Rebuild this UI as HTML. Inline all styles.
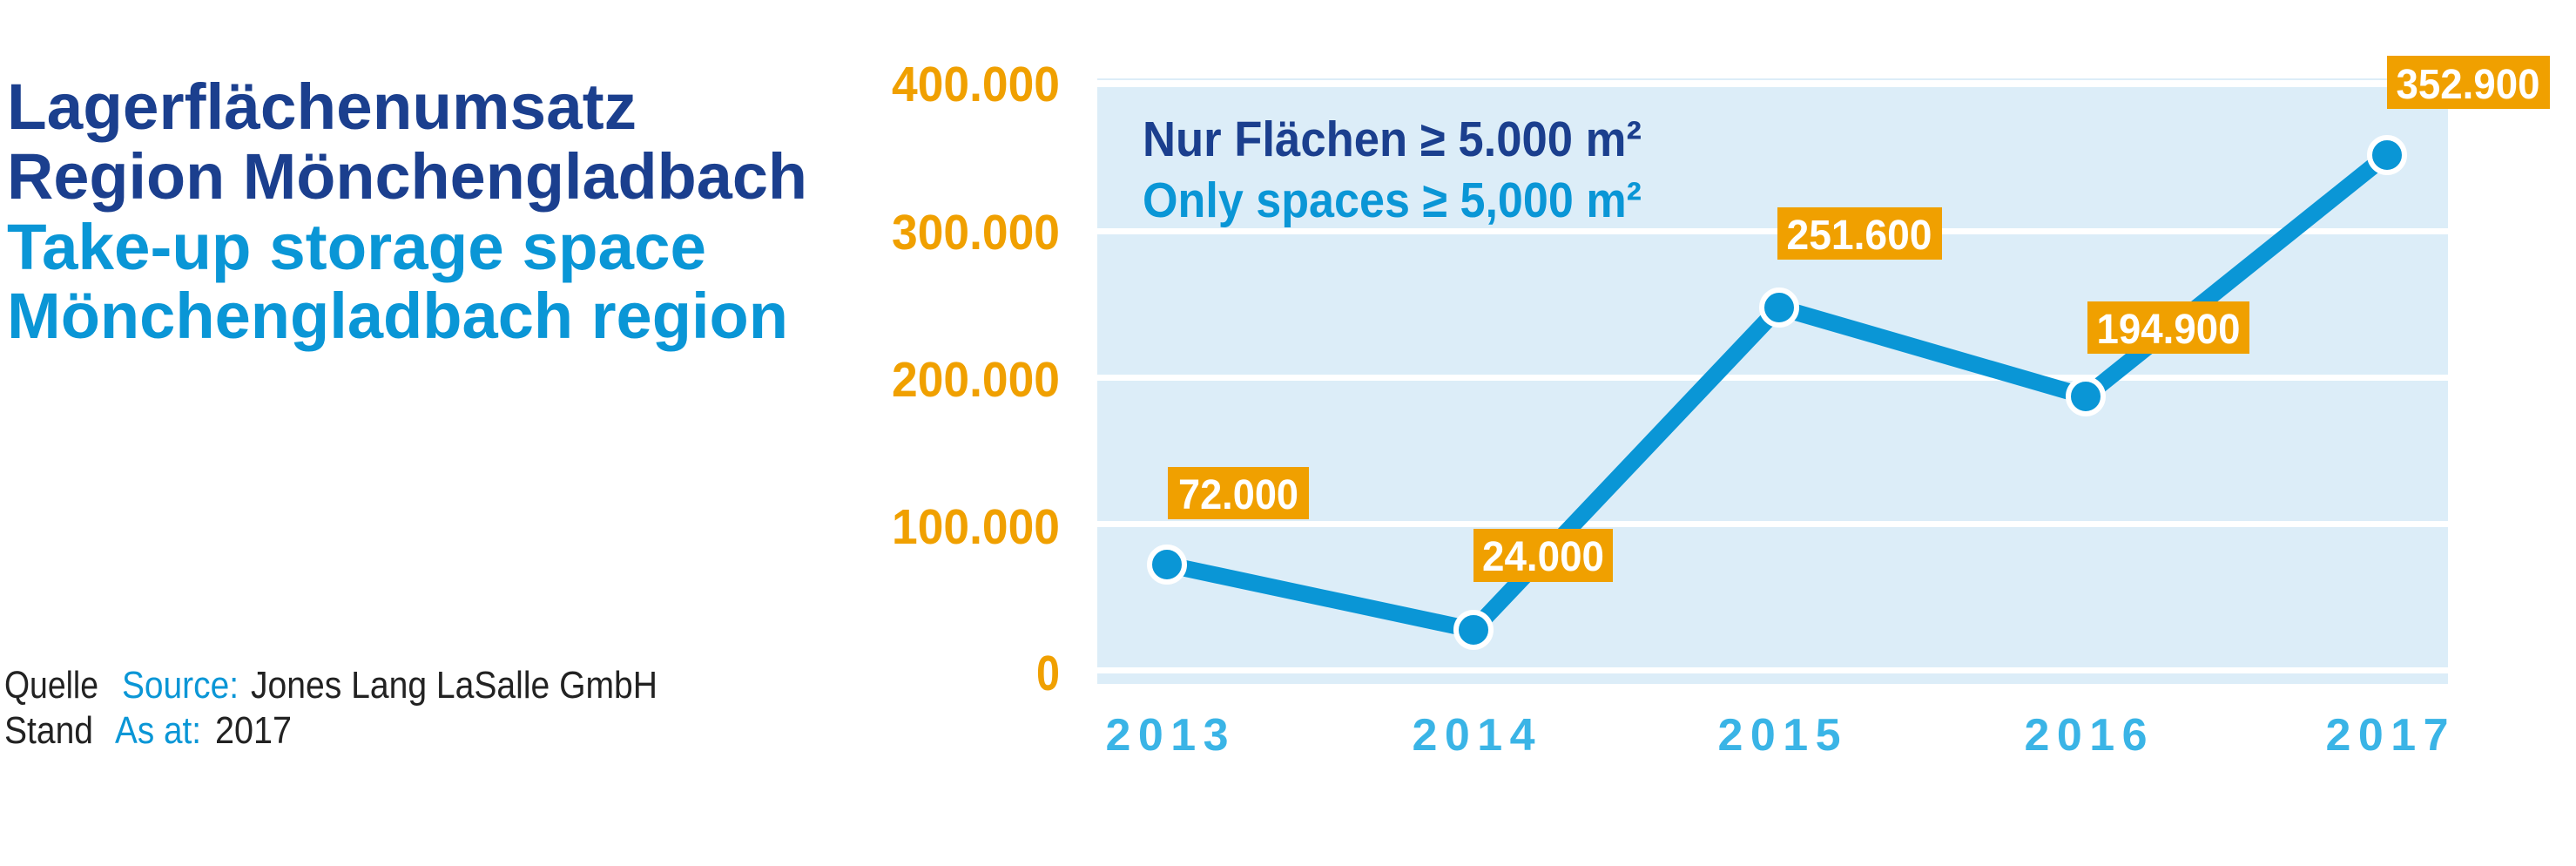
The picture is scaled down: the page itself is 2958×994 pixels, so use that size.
<!DOCTYPE html>
<html><head><meta charset="utf-8"><style>
html,body{margin:0;padding:0;background:#fff;}
svg{display:block;}
text{font-family:"Liberation Sans",Arial,sans-serif;}
</style></head><body>
<svg width="2958" height="994" viewBox="0 0 2958 994" xmlns="http://www.w3.org/2000/svg">
<rect x="0" y="0" width="2958" height="994" fill="#fff"/>
<!-- title -->
<g font-weight="bold" font-size="74">
<text x="8" y="148" fill="#1b3f8e" textLength="723" lengthAdjust="spacingAndGlyphs">Lagerflächenumsatz</text>
<text x="8" y="228" fill="#1b3f8e" textLength="919" lengthAdjust="spacingAndGlyphs">Region Mönchengladbach</text>
<text x="8" y="309" fill="#0a96d6" textLength="803" lengthAdjust="spacingAndGlyphs">Take-up storage space</text>
<text x="8" y="388" fill="#0a96d6" textLength="897" lengthAdjust="spacingAndGlyphs">Mönchengladbach region</text>
</g>
<!-- source -->
<g font-size="44">
<text x="5" y="801" fill="#222" textLength="108" lengthAdjust="spacingAndGlyphs">Quelle</text>
<text x="140" y="801" fill="#0a96d6" textLength="134" lengthAdjust="spacingAndGlyphs">Source:</text>
<text x="288" y="801" fill="#222" textLength="467" lengthAdjust="spacingAndGlyphs">Jones Lang LaSalle GmbH</text>
<text x="5" y="853" fill="#222" textLength="102" lengthAdjust="spacingAndGlyphs">Stand</text>
<text x="132" y="853" fill="#0a96d6" textLength="99" lengthAdjust="spacingAndGlyphs">As at:</text>
<text x="247" y="853" fill="#222" textLength="88" lengthAdjust="spacingAndGlyphs">2017</text>
</g>
<!-- plot bg -->
<rect x="1260" y="90" width="1551" height="695" fill="#dcedf8"/>
<g fill="#fff">
<rect x="1260" y="92" width="1551" height="8"/>
<rect x="1260" y="262" width="1551" height="7"/>
<rect x="1260" y="430" width="1551" height="7"/>
<rect x="1260" y="598" width="1551" height="7"/>
<rect x="1260" y="766" width="1551" height="7"/>
</g>
<!-- y labels -->
<g font-weight="bold" font-size="57" fill="#f0a000" text-anchor="end">
<text x="1217" y="116" textLength="193" lengthAdjust="spacingAndGlyphs">400.000</text>
<text x="1217" y="286" textLength="193" lengthAdjust="spacingAndGlyphs">300.000</text>
<text x="1217" y="455" textLength="193" lengthAdjust="spacingAndGlyphs">200.000</text>
<text x="1217" y="624" textLength="193" lengthAdjust="spacingAndGlyphs">100.000</text>
<text x="1217" y="792" textLength="27" lengthAdjust="spacingAndGlyphs">0</text>
</g>
<!-- legend -->
<g font-weight="bold" font-size="57">
<text x="1312" y="179" fill="#1b3f8e" textLength="573" lengthAdjust="spacingAndGlyphs">Nur Flächen ≥ 5.000 m²</text>
<text x="1312" y="249" fill="#0a96d6" textLength="573" lengthAdjust="spacingAndGlyphs">Only spaces ≥ 5,000 m²</text>
</g>
<!-- line -->
<polyline points="1340,648 1692,723 2043,353 2395,455 2741,178" fill="none" stroke="#0a96d6" stroke-width="19" stroke-linejoin="round"/>
<g fill="#0a96d6" stroke="#fff" stroke-width="6">
<circle cx="1340" cy="648" r="20"/>
<circle cx="1692" cy="723" r="20"/>
<circle cx="2043" cy="353" r="20"/>
<circle cx="2395" cy="455" r="20"/>
<circle cx="2741" cy="178" r="20"/>
</g>
<!-- value labels -->
<g fill="#f0a000">
<rect x="1341" y="536" width="162" height="60"/>
<rect x="1692" y="607" width="160" height="61"/>
<rect x="2041" y="238" width="189" height="60"/>
<rect x="2397" y="346" width="186" height="60"/>
<rect x="2741" y="64" width="187" height="61"/>
</g>
<g font-weight="bold" font-size="48" fill="#fff" text-anchor="middle">
<text x="1422" y="584" textLength="138" lengthAdjust="spacingAndGlyphs">72.000</text>
<text x="1772" y="655" textLength="140" lengthAdjust="spacingAndGlyphs">24.000</text>
<text x="2135" y="286" textLength="167" lengthAdjust="spacingAndGlyphs">251.600</text>
<text x="2490" y="394" textLength="165" lengthAdjust="spacingAndGlyphs">194.900</text>
<text x="2834" y="113" textLength="165" lengthAdjust="spacingAndGlyphs">352.900</text>
</g>
<!-- x labels -->
<g font-weight="bold" font-size="52" fill="#3ab4e6" text-anchor="middle">
<text x="1340" y="861" textLength="141" lengthAdjust="spacing">2013</text>
<text x="1692" y="861" textLength="141" lengthAdjust="spacing">2014</text>
<text x="2043" y="861" textLength="141" lengthAdjust="spacing">2015</text>
<text x="2395" y="861" textLength="141" lengthAdjust="spacing">2016</text>
<text x="2741" y="861" textLength="141" lengthAdjust="spacing">2017</text>
</g>
</svg>
</body></html>
